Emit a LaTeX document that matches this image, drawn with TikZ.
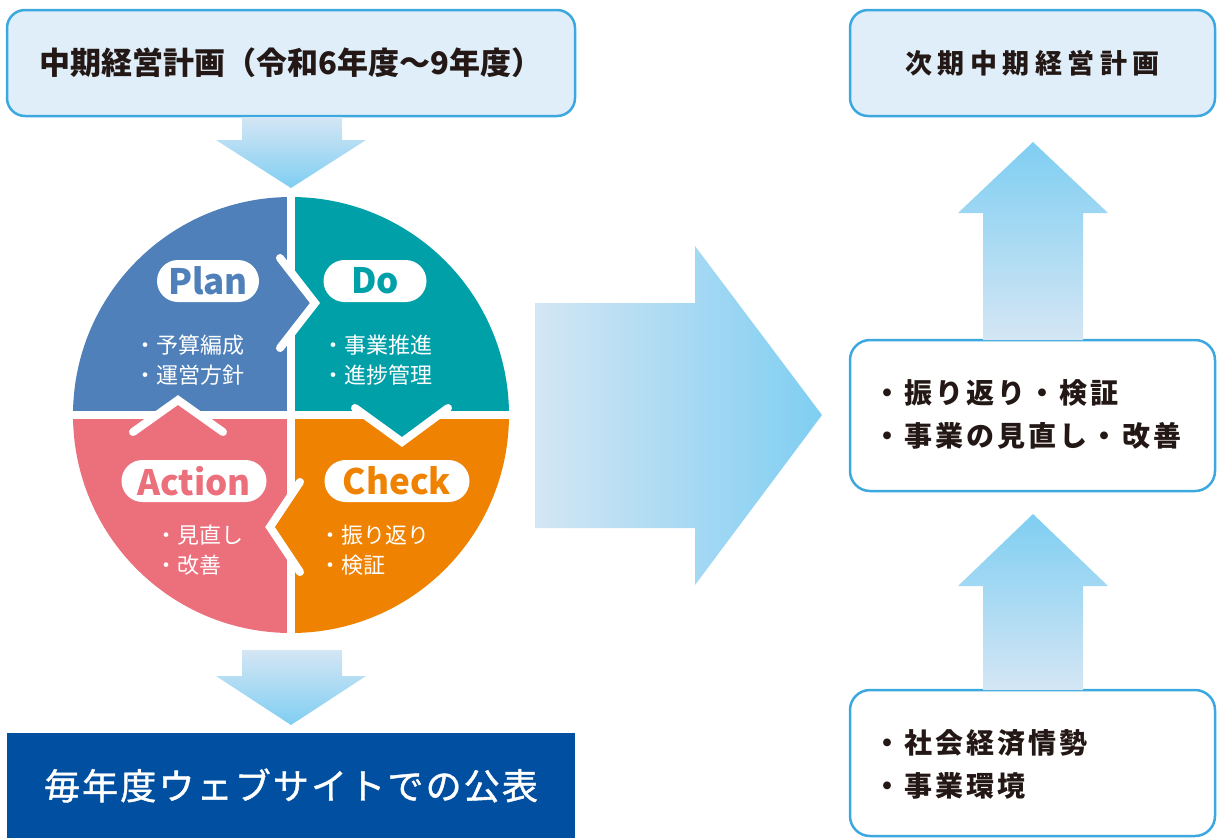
\documentclass[tikz,border=0pt]{standalone}
\usepackage{fontspec}
\setmainfont{Noto Sans CJK JP}
\usetikzlibrary{positioning}

\definecolor{boxfill}{HTML}{DFEEF9}
\definecolor{boxline}{HTML}{3BA8DF}
\definecolor{ink}{HTML}{231815}
\definecolor{navy}{HTML}{004FA0}
\definecolor{arrlight}{HTML}{D4E6F4}
\definecolor{arrdark}{HTML}{7FCEF2}
\definecolor{plancol}{HTML}{4F80B9}
\definecolor{docol}{HTML}{00A0A9}
\definecolor{checkcol}{HTML}{EF8200}
\definecolor{actcol}{HTML}{EC6F7C}

\begin{document}
\begin{tikzpicture}[x=1pt, y=-1pt, thick,
  planbox/.style = {draw=boxline, line width=2.5pt, fill=boxfill, rounded corners=18pt, minimum height=106pt, text=ink},
  infobox/.style = {draw=boxline, line width=2.5pt, fill=white, rounded corners=20pt, minimum width=365pt},
  pill/.style = {fill=white, rounded corners=21pt, minimum height=42pt, inner sep=0pt, font=\fontsize{35}{35}\selectfont\bfseries},
  bul/.style = {text=white, align=left, anchor=west, inner sep=0pt, font=\fontsize{22}{30}\selectfont},
  infotx/.style = {text=ink, align=left, anchor=west, inner sep=0pt, font=\fontsize{28}{43}\selectfont\bfseries\addfontfeatures{LetterSpace=11}},
  divider/.style = {white, line width=8pt},
  chev/.style = {white, line width=8pt, line cap=round, line join=miter}]
\useasboundingbox (0,0) rectangle (1217,838);

% boxes
\node[planbox, minimum width=568pt, font=\fontsize{31}{31}\selectfont\bfseries] (mtp) at (291,63) {中期経営計画（令和6年度～9年度）};
\node[planbox, minimum width=365pt, font=\fontsize{27}{27}\selectfont\bfseries\addfontfeatures{LetterSpace=20}] (nextmtp) at (1032.5,63) {次期中期経営計画};
\node[infobox, minimum height=151pt] (review) at (1032.5,415.5) {};
\node[infobox, minimum height=146pt] (env) at (1032.5,763) {};
\node[fill=navy, text=white, minimum width=568pt, minimum height=105pt, font=\fontsize{36}{36}\selectfont\addfontfeatures{LetterSpace=6,FakeBold=1.2}] (pub) at (291,785.5) {毎年度ウェブサイトでの公表};
\node[infotx] (reviewtx) at (873,414.5) {・振り返り・検証\\・事業の見直し・改善};
\node[infotx] (envtx) at (873,764.5) {・社会経済情勢\\・事業環境};

% block arrows
\shade[top color=arrlight, bottom color=arrdark] (242,117) -- (342,117) -- (342,140) -- (366,140) -- (291,188) -- (216,140) -- (242,140) -- cycle;
\shade[top color=arrlight, bottom color=arrdark] (242,650) -- (342,650) -- (342,676) -- (366,676) -- (291,725) -- (216,676) -- (242,676) -- cycle;
\shade[left color=arrlight, right color=arrdark] (535,303) -- (695,303) -- (695,246) -- (822,415) -- (695,585) -- (695,528) -- (535,528) -- cycle;
\shade[bottom color=arrlight, top color=arrdark] (983,340) -- (983,213) -- (958,213) -- (1033,142) -- (1108,213) -- (1083,213) -- (1083,340) -- cycle;
\shade[bottom color=arrlight, top color=arrdark] (983,690) -- (983,586) -- (958,586) -- (1033,514) -- (1108,586) -- (1083,586) -- (1083,690) -- cycle;

% PDCA circle
\begin{scope}
\clip (291,415) circle (218pt);
\fill[plancol] (291,415) rectangle (60,190);
\fill[docol] (291,415) rectangle (520,190);
\fill[checkcol] (291,415) rectangle (520,640);
\fill[actcol] (291,415) rectangle (60,640);
\end{scope}
\fill[plancol] (291,271) -- (315,303) -- (291,335) -- cycle;
\fill[docol] (364,415) -- (402,442) -- (438,415) -- cycle;
\fill[checkcol] (291,496) -- (270,527) -- (291,558) -- cycle;
\fill[actcol] (157,415) -- (178,400) -- (199,415) -- cycle;
\draw[divider] (291,190) -- (291,271) (291,335) -- (291,496) (291,558) -- (291,640);
\draw[divider] (65,415) -- (157,415) (199,415) -- (364,415) (438,415) -- (515,415);
\draw[chev] (280,258) -- (315,303) -- (280,348);
\draw[chev] (355,408) -- (402,442) -- (448,408);
\draw[chev] (300,482) -- (270,527) -- (300,572);
\draw[chev] (133,432) -- (178,400) -- (223,432);

% labels
\node[pill, text=plancol, minimum width=102pt] (plan) at (208,281) {Plan};
\node[pill, text=docol, minimum width=103pt] (do) at (375,281) {Do};
\node[pill, text=actcol, minimum width=145pt] (act) at (194,481) {Action};
\node[pill, text=checkcol, minimum width=145pt] (check) at (397,481) {Check};
\node[bul] (plantx) at (134,360) {・予算編成\\・運営方針};
\node[bul] (dotx) at (322,360) {・事業推進\\・進捗管理};
\node[bul] (acttx) at (155,550) {・見直し\\・改善};
\node[bul] (checktx) at (319,550) {・振り返り\\・検証};
\end{tikzpicture}
\end{document}
